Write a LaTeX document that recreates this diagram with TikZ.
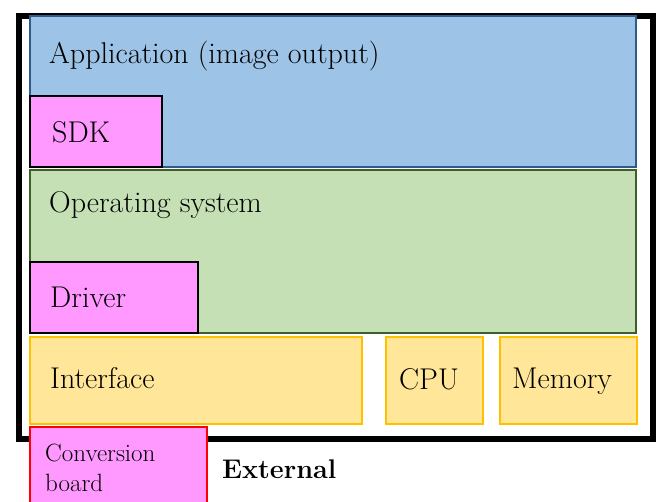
\documentclass[tikz,border=0pt]{standalone}
\usepackage{amsmath,amssymb}
\usepackage{fontspec}
\usepackage{tikz}
\usepackage{xcolor}

\definecolor{appfill}{HTML}{9DC3E6}
\definecolor{appline}{HTML}{2E5A8C}
\definecolor{osfill}{HTML}{C5E0B4}
\definecolor{osline}{HTML}{3F5F2A}
\definecolor{pinkfill}{HTML}{FF99FF}
\definecolor{hwfill}{HTML}{FFE699}
\definecolor{hwline}{HTML}{FFC000}

\begin{document}
\begin{tikzpicture}[x=1pt,y=-1pt,
  layer/.style={draw,line width=2pt,rectangle,inner sep=0pt,outer sep=0pt,anchor=north west},
  txt/.style={inner sep=0pt,anchor=base west,font=\fontsize{30}{30}\selectfont}]
\useasboundingbox (0,0) rectangle (657,502);
\clip (0,0) rectangle (657,502);
\fill[white] (0,0) rectangle (657,502);
% outer frame
\node [draw,line width=6pt,rectangle,inner sep=0pt,anchor=north west,
  minimum width=634pt,minimum height=423pt] (frame) at (16,13) {};
% software layers
\node [layer,draw=appline,fill=appfill,minimum width=606pt,minimum height=151pt] (app) at (30,16) {};
\node [layer,fill=pinkfill,minimum width=132pt,minimum height=71pt] (sdk) at (30,96) {};
\node [layer,draw=osline,fill=osfill,minimum width=606pt,minimum height=163pt] (os) at (30,170) {};
\node [layer,fill=pinkfill,minimum width=168pt,minimum height=71pt] (driver) at (30,262) {};
% hardware
\node [layer,draw=hwline,fill=hwfill,minimum width=332pt,minimum height=87pt] (interface) at (30,337) {};
\node [layer,draw=hwline,fill=hwfill,minimum width=97pt,minimum height=87pt] (cpu) at (386,337) {};
\node [layer,draw=hwline,fill=hwfill,minimum width=137pt,minimum height=87pt] (memory) at (500,337) {};
\node [layer,draw=red,fill=pinkfill,minimum width=177pt,minimum height=90pt] (board) at (30,427) {};
% labels
\node [txt] (apptext) at (49,64) {Application (image output)};
\node [txt] (sdktext) at (52,143) {SDK};
\node [txt] (ostext) at (49,213) {Operating system};
\node [txt] (drivertext) at (50,308) {Driver};
\node [txt] (interfacetext) at (50,389) {Interface};
\node [txt] (cputext) at (399,390) {CPU};
\node [txt] (memorytext) at (512,389) {Memory};
\node [txt,font=\fontsize{25}{30}\selectfont] (boardtext1) at (45,462) {Conversion};
\node [txt,font=\fontsize{25}{30}\selectfont] (boardtext2) at (45,492) {board};
\node [txt,font=\fontsize{27}{30}\selectfont\bfseries] (externaltext) at (222,479) {External};
\end{tikzpicture}
\end{document}
